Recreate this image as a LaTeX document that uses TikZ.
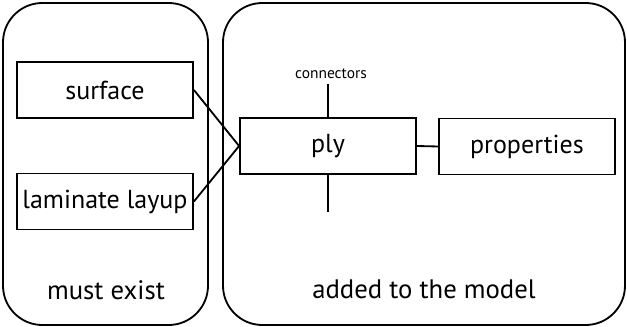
\documentclass[tikz,border=0pt]{standalone}
\usepackage{fontspec}
\setmainfont{PT Sans}
\usetikzlibrary{positioning}
\begin{document}
\begin{tikzpicture}[x=0.025cm,y=-0.025cm]
            \tikzset{
                link/.style={line width=1.3pt},
                group/.style={draw,line width=1.3pt,rounded corners=28pt},
                block/.style={draw,line width=1.3pt,minimum width=176*0.025cm,minimum height=56*0.025cm,inner sep=0pt,font=\fontsize{18.5}{22}\selectfont},
                caption/.style={font=\fontsize{19}{22}\selectfont},}
            \useasboundingbox (0,0) rectangle (627,327);
            % containers
            \draw [group] (3,3) rectangle (208,325);
            \draw [group] (223,3) rectangle (625,325);
            % boxes
            \node [block] (surface) at (105,90) {surface};
            \node [block] (layup) at (105,201.5) {laminate layup};
            \node [block] (ply) at (328,146) {ply};
            \node [block] (props) at (527,146.5) {properties};
            \node [font=\fontsize{11}{13}\selectfont] (conn) at (331,74) {connectors};
            \coordinate (bottom) at (ply.south |- 0,212);
            \draw [link] (surface.east) -- (ply.west);
            \draw [link] (layup.east) -- (ply.west);
            \draw [link] (ply.east) -- (props.west);
            \draw [link] (conn.south -| ply.north) -- (ply.north);
            \draw [link] (ply.south) -- (bottom);
            % captions
            \node [caption] (must) at (106,290) {must exist};
            \node [caption] (added) at (424,289) {added to the model};
        \end{tikzpicture}
\end{document}
